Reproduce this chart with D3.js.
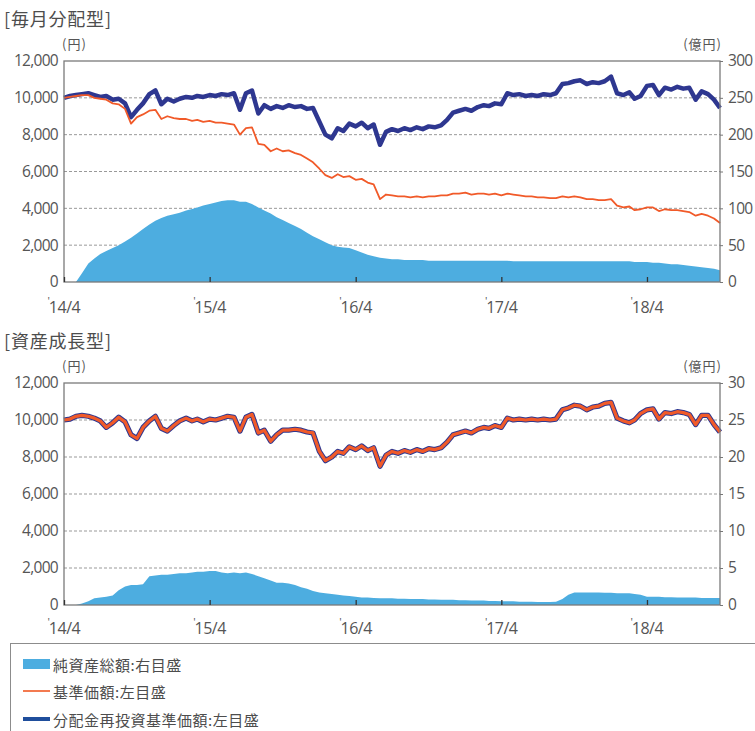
<!DOCTYPE html>
<html>
<head>
<meta charset="utf-8">
<script src="https://cdn.jsdelivr.net/npm/d3@7"></script>
<style>
  body { margin: 0; background: #fff; }
  svg text { font-family: "Open Sans", "Noto Sans CJK JP", sans-serif; }
  .jp { font-family: "Noto Sans CJK JP", sans-serif; }
</style>
</head>
<body>
<svg id="chart" width="755" height="731"></svg>
<script>
// observation dates: 1st and 16th of each month, 2014/4 .. 2018/10
const dates = d3.range(109).map(i => new Date(2014, 3 + Math.floor(i / 2), i % 2 ? 16 : 1));

const xTickDates = [new Date(2014, 3, 1), new Date(2015, 3, 1), new Date(2016, 3, 1), new Date(2017, 3, 1), new Date(2018, 3, 1)];
const xTickLabels = ["14/4", "15/4", "16/4", "17/4", "18/4"];
const leftTicks = [0, 2000, 4000, 6000, 8000, 10000, 12000];
const rightTicksMonthly = [0, 50, 100, 150, 200, 250, 300];
const rightTicksGrowth = [0, 5, 10, 15, 20, 25, 30];

// 毎月分配型
const monthlyReinvest = [
  10000,10100,10150,10200,10250,10150,10050,10100,9900,9950,
  9700,8950,9350,9700,10200,10400,9650,9950,9800,9950,
  10050,10000,10100,10050,10150,10100,10200,10150,10250,9350,
  10250,10400,9150,9600,9400,9550,9450,9600,9500,9550,
  9400,9450,8700,8000,7800,8350,8200,8600,8450,8650,
  8350,8550,7450,8150,8300,8200,8350,8250,8400,8300,
  8450,8400,8500,8800,9200,9300,9400,9300,9500,9600,
  9550,9700,9650,10250,10150,10200,10100,10150,10100,10200,
  10150,10250,10750,10800,10900,10950,10750,10850,10800,10900,
  11150,10250,10150,10300,9950,10100,10650,10700,10150,10550,
  10450,10600,10500,10550,9900,10350,10200,9900,9450];
const monthlyPrice = [
  10000,10050,10100,10150,10150,10000,9950,9900,9700,9650,
  9400,8600,8950,9100,9300,9350,8850,9000,8900,8850,
  8850,8750,8800,8700,8750,8650,8650,8600,8550,8000,
  8350,8400,7500,7450,7100,7250,7100,7150,7000,6900,
  6700,6500,6150,5800,5650,5850,5700,5750,5550,5600,
  5400,5300,4500,4750,4700,4650,4650,4600,4650,4600,
  4650,4650,4700,4700,4800,4800,4850,4750,4800,4800,
  4750,4800,4700,4800,4750,4700,4650,4650,4600,4600,
  4550,4550,4650,4600,4650,4600,4500,4500,4450,4450,
  4500,4150,4050,4100,3900,3950,4050,4050,3850,3950,
  3900,3900,3850,3800,3600,3700,3600,3450,3200];
const monthlyAssets = [
  0,0,0,12,25,32,38,42,46,50,
  55,60,66,72,78,83,87,90,92,94,
  97,99,101,104,106,108,110,111,111,109,
  109,106,101,97,93,88,84,80,76,72,
  67,62,58,54,50,48,47,46,43,40,
  37,35,33,32,31,31,30,30,30,30,
  29,29,29,29,29,29,29,29,29,29,
  29,29,29,29,28,28,28,28,28,28,
  28,28,28,28,28,28,28,28,28,28,
  28,28,28,28,27,27,27,26,26,25,
  24,24,23,22,21,20,19,18,16];

// 資産成長型 (no distributions, so both price lines coincide)
const growthPrice = [
  10000,10050,10200,10250,10200,10100,9950,9600,9850,10150,
  9900,9200,9000,9600,9950,10200,9550,9400,9700,9950,
  10100,9950,10050,9900,10050,10000,10100,10200,10150,9400,
  10150,10300,9300,9450,8850,9200,9450,9450,9500,9450,
  9350,9300,8300,7800,8000,8300,8200,8550,8400,8600,
  8350,8500,7500,8100,8300,8200,8350,8250,8400,8300,
  8450,8400,8500,8800,9200,9300,9400,9300,9500,9600,
  9550,9700,9600,10100,10000,10050,10000,10050,10000,10050,
  10000,10050,10550,10650,10800,10750,10550,10700,10750,10900,
  10950,10100,9950,9850,10000,10350,10550,10600,10050,10400,
  10350,10450,10400,10300,9750,10250,10250,9750,9350];
const growthReinvest = growthPrice;
const growthAssets = [
  0,0,0,0.2,0.5,0.9,1.0,1.1,1.3,2.0,
  2.5,2.7,2.7,2.8,3.9,4.0,4.1,4.1,4.2,4.3,
  4.3,4.4,4.5,4.5,4.6,4.6,4.4,4.3,4.4,4.3,
  4.4,4.2,3.9,3.6,3.3,3.0,3.0,2.9,2.7,2.4,
  2.2,1.9,1.7,1.6,1.5,1.4,1.3,1.2,1.1,1.0,
  1.0,0.95,0.9,0.9,0.9,0.85,0.85,0.8,0.8,0.8,
  0.75,0.75,0.7,0.7,0.7,0.65,0.65,0.6,0.6,0.6,
  0.55,0.55,0.5,0.5,0.5,0.45,0.45,0.45,0.4,0.4,
  0.4,0.45,0.8,1.4,1.7,1.7,1.7,1.7,1.7,1.65,
  1.65,1.6,1.6,1.6,1.5,1.4,1.1,1.1,1.1,1.05,
  1.05,1.0,1.0,1.0,1.0,0.95,0.95,0.95,0.95];

const legendItems = ["純資産総額:右目盛", "基準価額:左目盛", "分配金再投資基準価額:左目盛"];

const AREA = "#4dade0", ORANGE = "#f15a29", NAVY = "#2e3790";
const left = 64, right = 720;

const svg = d3.select("#chart");
svg.append("rect").attr("width", 755).attr("height", 731).attr("fill", "#fff");

const x = d3.scaleTime().domain([new Date(2014, 3, 1), new Date(2018, 9, 1)]).range([left, right]);

function drawPanel(p) {
  const g = svg.append("g");
  const yL = d3.scaleLinear().domain([0, 12000]).range([p.bottom, p.top]);
  const yR = d3.scaleLinear().domain([0, p.rightTicks[p.rightTicks.length - 1]]).range([p.bottom, p.top]);

  // title + units
  g.append("text").attr("class", "jp").attr("x", 4).attr("y", p.titleY)
    .attr("font-size", 18).attr("letter-spacing", 0.8).attr("fill", "#4d4d4d").text(p.title);
  g.append("text").attr("class", "jp").attr("x", 62).attr("y", p.top - 12)
    .attr("font-size", 13).attr("letter-spacing", 1).attr("fill", "#555").text("(円)");
  g.append("text").attr("class", "jp").attr("x", 722).attr("y", p.top - 12).attr("text-anchor", "end")
    .attr("font-size", 13).attr("letter-spacing", 1).attr("fill", "#555").text("(億円)");

  // dashed grid
  g.append("g").selectAll("line").data(leftTicks.filter(v => v > 0 && v < 12000)).join("line")
    .attr("x1", left).attr("x2", right).attr("y1", d => yL(d)).attr("y2", d => yL(d))
    .attr("stroke", "#999").attr("stroke-width", 1).attr("stroke-dasharray", "3,2");

  // net assets area (right scale)
  g.append("path").datum(p.assets)
    .attr("d", d3.area().x((d, i) => x(dates[i])).y0(p.bottom).y1(d => yR(d)))
    .attr("fill", AREA);

  const line = d3.line().x((d, i) => x(dates[i])).y(d => yL(d));
  g.append("path").datum(p.reinvest).attr("d", line)
    .attr("fill", "none").attr("stroke", NAVY).attr("stroke-width", p.reinvestW).attr("stroke-linejoin", "round");
  g.append("path").datum(p.price).attr("d", line)
    .attr("fill", "none").attr("stroke", ORANGE).attr("stroke-width", p.priceW).attr("stroke-linejoin", "round");

  // frame
  g.append("rect").attr("x", left).attr("y", p.top).attr("width", right - left).attr("height", p.bottom - p.top)
    .attr("fill", "none").attr("stroke", "#7a7a7a").attr("stroke-width", 1.3);

  const yAxisL = g.append("g").attr("transform", `translate(${left},0)`)
    .call(d3.axisLeft(yL).tickValues(leftTicks).tickSize(0).tickPadding(6).tickFormat(d3.format(",")));
  yAxisL.select(".domain").remove();

  const yAxisR = g.append("g").attr("transform", `translate(${right},0)`)
    .call(d3.axisRight(yR).tickValues(p.rightTicks).tickSize(3).tickPadding(5));
  yAxisR.select(".domain").remove();

  const xAxis = g.append("g").attr("transform", `translate(0,${p.bottom})`)
    .call(d3.axisBottom(x).tickValues(xTickDates).tickSize(-5).tickPadding(p.xPad).tickFormat((d, i) => xTickLabels[i]));
  xAxis.select(".domain").remove();
  xAxis.selectAll(".tick line").attr("stroke", "#333").attr("stroke-width", 1.3);
  // small raised apostrophe before each year label
  xAxis.selectAll(".tick").append("text")
    .attr("x", -16).attr("y", p.xPad + 3).attr("font-size", 11).attr("fill", "#555").text("'");

  [yAxisL, yAxisR].forEach(a => a
    .attr("font-family", "'Open Sans', sans-serif").attr("font-size", 15.5)
    .attr("letter-spacing", -0.7).attr("color", "#555"));
  xAxis.attr("font-family", "'Open Sans', sans-serif").attr("font-size", 16)
    .attr("letter-spacing", -0.5).attr("color", "#555");
  yAxisR.selectAll(".tick line").attr("stroke", "#777");
}

drawPanel({ title: "[毎月分配型]", titleY: 26, top: 61, bottom: 282, xPad: 20, rightTicks: rightTicksMonthly,
  price: monthlyPrice, reinvest: monthlyReinvest, assets: monthlyAssets, priceW: 1.8, reinvestW: 4.5 });
drawPanel({ title: "[資産成長型]", titleY: 348, top: 383, bottom: 605, xPad: 18, rightTicks: rightTicksGrowth,
  price: growthPrice, reinvest: growthReinvest, assets: growthAssets, priceW: 3.2, reinvestW: 5.2 });

// legend
const lg = svg.append("g");
lg.append("rect").attr("x", 10.5).attr("y", 643.5).attr("width", 800).attr("height", 120)
  .attr("fill", "none").attr("stroke", "#8c8c8c").attr("stroke-width", 1);
const rows = [664, 691, 719];
lg.append("rect").attr("x", 23).attr("y", rows[0] - 5).attr("width", 27).attr("height", 10).attr("fill", AREA);
lg.append("line").attr("x1", 23).attr("x2", 50).attr("y1", rows[1]).attr("y2", rows[1])
  .attr("stroke", "#f37a50").attr("stroke-width", 2);
lg.append("line").attr("x1", 23).attr("x2", 50).attr("y1", rows[2]).attr("y2", rows[2])
  .attr("stroke", "#1f4e9c").attr("stroke-width", 4);
lg.selectAll("text.item").data(legendItems).join("text")
  .attr("class", "jp item").attr("x", 53).attr("y", (d, i) => rows[i])
  .attr("dominant-baseline", "central").attr("font-size", 15).attr("letter-spacing", 0.5)
  .attr("fill", "#4d4d4d").text(d => d);
</script>
</body>
</html>
